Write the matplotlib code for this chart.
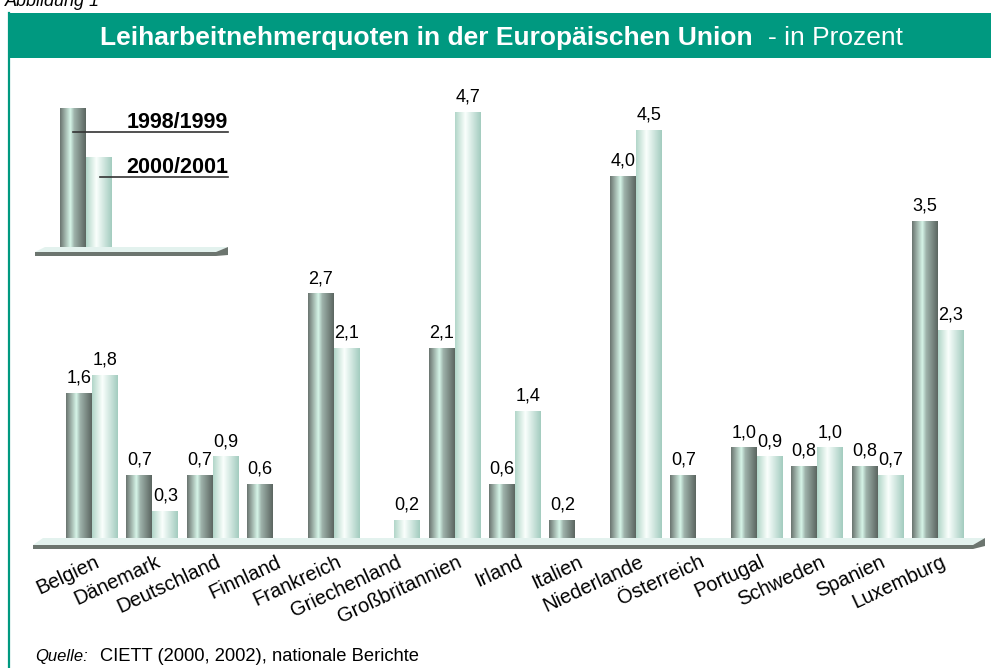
import numpy as np
import matplotlib
matplotlib.use("Agg")
import matplotlib.pyplot as plt
from matplotlib.patches import Polygon, Rectangle

plt.rcParams['font.family'] = ['Liberation Sans', 'DejaVu Sans']

laender = ["Belgien", "Dänemark", "Deutschland", "Finnland", "Frankreich",
           "Griechenland", "Großbritannien", "Irland", "Italien", "Niederlande",
           "Österreich", "Portugal", "Schweden", "Spanien", "Luxemburg"]
werte_9899 = [1.6, 0.7, 0.7, 0.6, 2.7, None, 2.1, 0.6, 0.2, 4.0, 0.7, 1.0, 0.8, 0.8, 3.5]
werte_0001 = [1.8, 0.3, 0.9, None, 2.1, 0.2, 4.7, 1.4, None, 4.5, None, 0.9, 1.0, 0.7, 2.3]
serien = ["1998/1999", "2000/2001"]

GREEN = "#009980"
W, H = 991, 668

# horizontal colour profiles for the "cylinder" look
def verlauf(stops, cols, n=64):
    t = np.linspace(0, 1, n)
    cols = np.array(cols)
    return np.stack([np.interp(t, stops, cols[:, k]) for k in range(3)], axis=-1)[None, :, :]

dunkel = verlauf([0, 0.4, 0.55, 1], [(0.42, 0.46, 0.44), (0.84, 0.96, 0.91), (0.62, 0.70, 0.67), (0.36, 0.40, 0.38)])
hell = verlauf([0, 0.4, 1], [(0.70, 0.84, 0.79), (0.98, 1.0, 0.99), (0.64, 0.80, 0.75)])

fig = plt.figure(figsize=(W / 100, H / 100), dpi=100)

# background layer in pixel coordinates: frame, title bar, floor, legend
deko = fig.add_axes([0, 0, 1, 1])
deko.set_xlim(0, W)
deko.set_ylim(H, 0)
deko.axis('off')

deko.add_patch(Rectangle((8, 13), W, 45, color=GREEN, lw=0))
deko.plot([8.5, 8.5], [13, H], color=GREEN, lw=1.6)
deko.text(5, 6, "Abbildung 1", fontsize=13, style='italic', va='baseline')
deko.text(100, 45, "Leiharbeitnehmerquoten in der Europäischen Union", color='white',
          fontsize=19, fontweight='bold', va='baseline')
deko.text(768, 45, "- in Prozent", color='white', fontsize=19, va='baseline')
deko.text(35, 661, "Quelle:", fontsize=12, style='italic', va='baseline')
deko.text(100, 661, "CIETT (2000, 2002), nationale Berichte", fontsize=13.2, va='baseline')


def boden(x0, x1, y, tiefe=7, dicke=4):
    deko.add_patch(Polygon([(x0, y + tiefe), (x0 + 10, y), (x1, y), (x1 - 12, y + tiefe)],
                           closed=True, fc="#e3f2ee", ec='none'))
    deko.add_patch(Polygon([(x0, y + tiefe), (x1 - 12, y + tiefe), (x1, y), (x1, y + dicke + 4),
                            (x1 - 12, y + tiefe + dicke), (x0, y + tiefe + dicke)],
                           closed=True, fc="#6c756f", ec='none'))


boden(33, 985, 538)
boden(35, 228, 247, tiefe=5, dicke=4)

# legend bars
for (x0, top, grad) in [(60, 108, dunkel), (86, 157, hell)]:
    deko.imshow(grad, extent=(x0, x0 + 26, 247, top), aspect='auto', zorder=2)
deko.plot([73, 228], [132, 132], color='#333333', lw=1.2, zorder=3)
deko.plot([100, 228], [177, 177], color='#333333', lw=1.2, zorder=3)
deko.text(228, 128, serien[0], ha='right', va='baseline', fontsize=15.5, fontweight='bold')
deko.text(228, 173, serien[1], ha='right', va='baseline', fontsize=15.5, fontweight='bold')
deko.set_xlim(0, W)
deko.set_ylim(H, 0)

# data layer
ax = fig.add_axes([0, 0, 1, 1])
ax.patch.set_alpha(0)
ax.axis('off')

breite = 0.43
x = np.arange(len(laender))
for werte, off, grad in [(werte_9899, -breite / 2, dunkel), (werte_0001, breite / 2, hell)]:
    for i, v in enumerate(werte):
        if v is None:
            continue
        b = ax.bar(x[i] + off, v, width=breite, color='none', lw=0)[0]
        im = ax.imshow(grad, extent=(b.get_x(), b.get_x() + b.get_width(), 0, v),
                       aspect='auto', zorder=2)
        im.set_clip_path(b)
        ax.text(x[i] + off, v + 0.07, f"{v:.1f}".replace('.', ','), ha='center',
                va='bottom', fontsize=13)

for i, name in enumerate(laender):
    ax.text(x[i] + 0.04, -0.16, name, rotation=25, rotation_mode='anchor',
            ha='right', va='top', fontsize=14.5)

px = 60.43
ax.set_xlim(-92 / px, (W - 92) / px)
ax.set_ylim(-130 / 90.6, (H - 130) / 90.6)

fig.savefig("out.png", dpi=100)
